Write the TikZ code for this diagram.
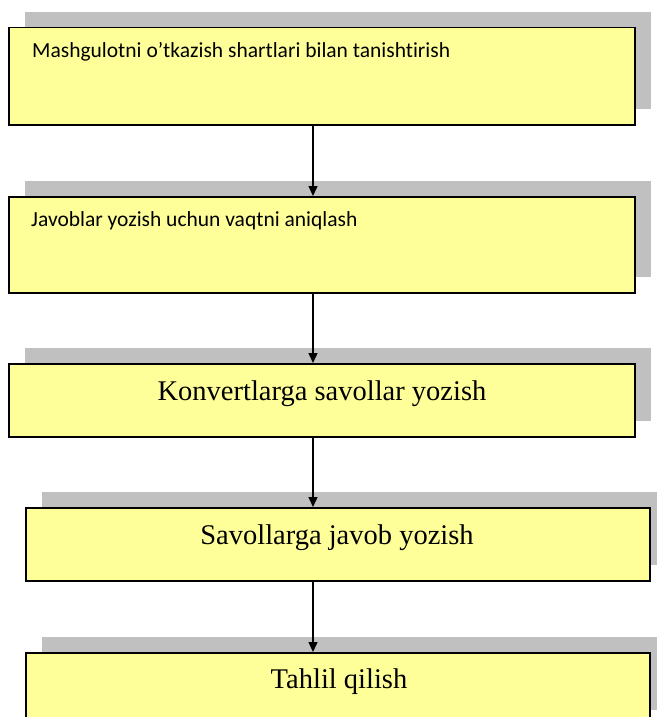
\documentclass[tikz,border=0pt]{standalone}
\usepackage{fontspec}
\setmainfont{Liberation Serif}
\newfontfamily\calfont[Ligatures={NoCommon}]{Carlito}
\usetikzlibrary{arrows.meta,shadows,calc}
\definecolor{boxyellow}{HTML}{FFFF99}
\definecolor{shadowgray}{HTML}{C0C0C0}
\tikzset{
  stepbox/.style={draw=black, line width=1.5pt, fill=boxyellow, rectangle, inner sep=0pt,
    anchor=north west,
    drop shadow={shadow xshift=16pt, shadow yshift=16pt, fill=shadowgray, opacity=1}},
  smalltext/.style={anchor=base west, inner sep=0pt, font=\calfont\fontsize{21.5}{26}\selectfont},
  bigtext/.style={anchor=base, inner sep=0pt, font=\fontsize{28.5}{34}\selectfont},
  arr/.style={line width=1.4pt, -{Triangle[length=10pt,width=9pt]}}
}
\begin{document}
\begin{tikzpicture}[x=1pt,y=1pt]
\useasboundingbox (0,0) rectangle (656,-717);
\node[stepbox, minimum width=626pt, minimum height=97pt] (b1) at (8,-27) {};
\node[stepbox, minimum width=626pt, minimum height=96pt] (b2) at (8,-196) {};
\node[stepbox, minimum width=626pt, minimum height=73pt] (b3) at (8,-363) {};
\node[stepbox, minimum width=624pt, minimum height=73pt] (b4) at (25,-507) {};
\node[stepbox, minimum width=624pt, minimum height=73pt] (b5) at (25,-652) {};
\node[smalltext] (t1) at (32,-57) {Mashgulotni o’tkazish shartlari bilan tanishtirish};
\node[smalltext] (t2) at (31,-226) {Javoblar yozish uchun vaqtni aniqlash};
\node[bigtext] (t3) at (322,-400) {Konvertlarga savollar yozish};
\node[bigtext] (t4) at (337,-544.5) {Savollarga javob yozish};
\node[bigtext] (t5) at (339,-688) {Tahlil qilish};
\coordinate (ax) at (313,0);
\draw[arr] (b1.south -| ax) -- (b2.north -| ax);
\draw[arr] (b2.south -| ax) -- (b3.north -| ax);
\draw[arr] (b3.south -| ax) -- (b4.north -| ax);
\draw[arr] (b4.south -| ax) -- (b5.north -| ax);
\end{tikzpicture}
\end{document}
